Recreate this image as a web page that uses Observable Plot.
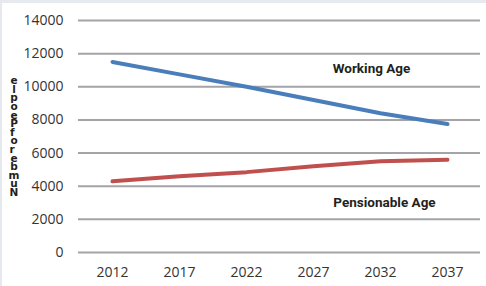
<!DOCTYPE html>
<html>
<head>
<meta charset="utf-8">
<script src="https://cdn.jsdelivr.net/npm/d3@7"></script>
<script src="https://cdn.jsdelivr.net/npm/@observablehq/plot@0.6"></script>
<style>
  html, body { margin: 0; padding: 0; background: #e6e9ee; width: 486px; height: 286px; overflow: hidden; }
  #chart { position: absolute; left: 2px; top: 3px; width: 484px; height: 283px; background: #fff; }
</style>
</head>
<body>
<div id="chart"></div>
<script>
const years = ["2012", "2017", "2022", "2027", "2032", "2037"];
const workingAge = [11500, 10750, 10000, 9200, 8400, 7750];
const pensionableAge = [4300, 4600, 4850, 5200, 5500, 5600];
const yTicks = [0, 2000, 4000, 6000, 8000, 10000, 12000, 14000];
const seriesNames = ["Working Age", "Pensionable Age"];
const seriesColors = ["#4a7ebb", "#c0504d"];
const labelYears = ["2032", "2032"];
const labelValues = [11100, 3000];
const labelShift = [-9, 4];
const yTitle = "Number of People";

const rows = [];
years.forEach((y, i) => {
  rows.push({year: y, value: workingAge[i], series: seriesNames[0]});
  rows.push({year: y, value: pensionableAge[i], series: seriesNames[1]});
});
const labels = seriesNames.map((s, i) => ({year: labelYears[i], value: labelValues[i], text: s, dx: labelShift[i]}));

const chart = Plot.plot({
  width: 484,
  height: 283,
  marginLeft: 76,
  marginRight: 6,
  marginTop: 17,
  marginBottom: 34,
  style: {fontFamily: "'Open Sans', sans-serif", fontSize: "14px", color: "#333", background: "transparent"},
  x: {type: "point", domain: years, padding: 0.5},
  y: {domain: [0, 14000]},
  color: {domain: seriesNames, range: seriesColors},
  marks: [
    Plot.ruleY(yTicks, {stroke: "#a3a3a8", strokeWidth: 2}),
    Plot.axisY({ticks: yTicks, tickSize: 0, tickPadding: 15, line: true, stroke: "#a3a3a8", strokeWidth: 2, label: null, tickFormat: d => String(d), fill: "#333", strokeOpacity: 1}),
    Plot.axisX({tickSize: 0, tickPadding: 15, label: null, fill: "#333"}),
    Plot.line(rows, {x: "year", y: "value", z: "series", stroke: "series", strokeWidth: 4, strokeLinecap: "round"}),
    ...labels.map(l => Plot.text([l], {x: "year", y: "value", text: "text", dx: l.dx, fontWeight: "bold", fontSize: 13.5, fontFamily: "Roboto, sans-serif", fill: "#231f20"}))
  ]
});
document.getElementById("chart").appendChild(chart);

// stacked y-axis title (letters upright, bottom to top, as in the reference)
const svg = d3.select(chart);
const pieces = [];
Array.from(yTitle).forEach(c => {
  if (c === " " && pieces.length) pieces[pieces.length - 1] += c;
  else pieces.push(c);
});
const t = svg.append("text")
  .attr("font-family", "'DejaVu Sans', sans-serif")
  .attr("font-weight", "bold")
  .attr("font-size", 10.5)
  .attr("fill", "#231f20")
  .attr("text-anchor", "middle")
  .attr("xml:space", "preserve");
const bottom = 193, step = 8.6;
pieces.forEach((c, i) => {
  t.append("tspan").attr("x", 12).attr("y", bottom - i * step).text(c);
});
</script>
</body>
</html>
